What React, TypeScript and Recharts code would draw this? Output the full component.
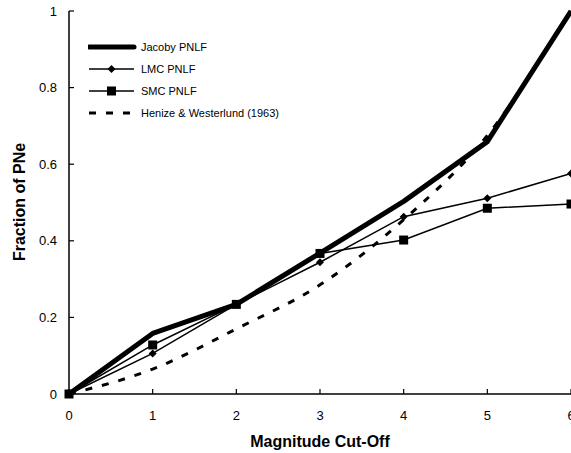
import React from "react";
import { LineChart, Line, XAxis, YAxis, Legend } from "recharts";

const magnitudes = [0, 1, 2, 3, 4, 5, 6];
const jacoby = [0, 0.158, 0.234, 0.368, 0.503, 0.659, 1.0];
const lmc = [0, 0.106, 0.234, 0.344, 0.463, 0.511, 0.576];
const smc = [0, 0.128, 0.234, 0.367, 0.402, 0.485, 0.496];
const henize = [0, 0.065, 0.17, 0.285, 0.455, 0.675, 1.0];
const xTicks = [0, 1, 2, 3, 4, 5, 6];
const yTicks = [0, 0.2, 0.4, 0.6, 0.8, 1];
const seriesNames = ["Jacoby PNLF", "LMC PNLF", "SMC PNLF", "Henize & Westerlund (1963)"];

const data = magnitudes.map((m, i) => ({
  m,
  jacoby: jacoby[i],
  lmc: lmc[i],
  smc: smc[i],
  henize: henize[i],
}));

const FONT = "'Liberation Sans', Arial, Helvetica, sans-serif";

const Diamond = (props: any) => {
  const { cx, cy } = props;
  if (cx == null || cy == null) return <g />;
  const r = 4;
  return <path d={`M${cx},${cy - r}L${cx + r},${cy}L${cx},${cy + r}L${cx - r},${cy}Z`} fill="#000" />;
};

const Square = (props: any) => {
  const { cx, cy } = props;
  if (cx == null || cy == null) return <g />;
  const r = 4.5;
  return <rect x={cx - r} y={cy - r} width={2 * r} height={2 * r} fill="#000" />;
};

const LegendContent = () => {
  const row = (i: number, sample: React.ReactNode) => (
    <div key={i} style={{ display: "flex", alignItems: "center", height: 22 }}>
      <svg width={52} height={14} style={{ display: "block" }}>
        {sample}
      </svg>
      <span style={{ fontFamily: FONT, fontSize: 11, color: "#000", marginLeft: 1, whiteSpace: "nowrap" }}>
        {seriesNames[i]}
      </span>
    </div>
  );
  return (
    <div>
      {row(0, <line x1={1} y1={7} x2={46} y2={7} stroke="#000" strokeWidth={5} strokeLinecap="round" />)}
      {row(1, <g><line x1={1} y1={7} x2={46} y2={7} stroke="#000" strokeWidth={1.5} /><Diamond cx={23.5} cy={7} /></g>)}
      {row(2, <g><line x1={1} y1={7} x2={46} y2={7} stroke="#000" strokeWidth={1.5} /><Square cx={23.5} cy={7} /></g>)}
      {row(3, <line x1={1} y1={7} x2={46} y2={7} stroke="#000" strokeWidth={3} strokeDasharray="7 10" />)}
    </div>
  );
};

const YLabel = () => {
  const cx = 19;
  const cy = 202;
  return (
    <text
      x={cx}
      y={cy}
      transform={`rotate(-90 ${cx} ${cy})`}
      textAnchor="middle"
      dominantBaseline="central"
      fontFamily={FONT}
      fontWeight="bold"
      fontSize={16}
      fill="#000"
    >
      Fraction of PNe
    </text>
  );
};

const XLabel = () => {
  return (
    <text x={320} y={447} textAnchor="middle" fontFamily={FONT} fontWeight="bold" fontSize={16} fill="#000">
      Magnitude Cut-Off
    </text>
  );
};

export default function App() {
  return (
    <div style={{ position: "absolute", left: 0, top: 0, width: 571, height: 453, background: "#fff" }}>
      <LineChart width={571} height={453} data={data} margin={{ top: 11, right: 0, bottom: 0, left: 0 }}>
        <XAxis
          xAxisId="bottom"
          dataKey="m"
          type="number"
          domain={[0, 6]}
          ticks={xTicks}
          height={59}
          tickSize={-5}
          tickMargin={22}
          axisLine={{ stroke: "#000", strokeWidth: 1.5 }}
          tickLine={{ stroke: "#000", strokeWidth: 1.2 }}
          tick={{ fill: "#000", fontSize: 13, fontFamily: FONT }}
          label={<XLabel />}
          interval={0}
        />
        <XAxis
          xAxisId="top"
          orientation="top"
          dataKey="m"
          type="number"
          domain={[0, 6]}
          ticks={xTicks}
          height={0}
          tickSize={-5}
          axisLine={{ stroke: "#000", strokeWidth: 1.5 }}
          tickLine={{ stroke: "#000", strokeWidth: 1.2 }}
          tick={false}
        />
        <YAxis
          yAxisId="left"
          domain={[0, 1]}
          ticks={yTicks}
          width={69}
          tickSize={-5}
          tickMargin={17}
          axisLine={{ stroke: "#000", strokeWidth: 1.5 }}
          tickLine={{ stroke: "#000", strokeWidth: 1.2 }}
          tick={{ fill: "#000", fontSize: 13, fontFamily: FONT }}
          label={<YLabel />}
          interval={0}
        />
        <YAxis
          yAxisId="right"
          orientation="right"
          domain={[0, 1]}
          ticks={yTicks}
          width={0}
          tickSize={-5}
          axisLine={{ stroke: "#000", strokeWidth: 1.5 }}
          tickLine={{ stroke: "#000", strokeWidth: 1.2 }}
          tick={false}
        />
        <Legend
          layout="horizontal"
          align="center"
          verticalAlign="middle"
          content={<LegendContent />}
          wrapperStyle={{ position: "absolute", left: 88, top: 36, width: 260, height: 90 }}
        />
        <Line
          xAxisId="bottom"
          yAxisId="left"
          type="monotone"
          dataKey="henize"
          stroke="#000"
          strokeWidth={3}
          strokeDasharray="7 10"
          dot={false}
          isAnimationActive={false}
        />
        <Line
          xAxisId="bottom"
          yAxisId="left"
          type="linear"
          dataKey="smc"
          stroke="#000"
          strokeWidth={1.5}
          dot={<Square />}
          isAnimationActive={false}
        />
        <Line
          xAxisId="bottom"
          yAxisId="left"
          type="linear"
          dataKey="lmc"
          stroke="#000"
          strokeWidth={1.5}
          dot={<Diamond />}
          isAnimationActive={false}
        />
        <Line
          xAxisId="bottom"
          yAxisId="left"
          type="linear"
          dataKey="jacoby"
          stroke="#000"
          strokeWidth={5}
          strokeLinejoin="round"
          dot={false}
          isAnimationActive={false}
        />
      </LineChart>
    </div>
  );
}
